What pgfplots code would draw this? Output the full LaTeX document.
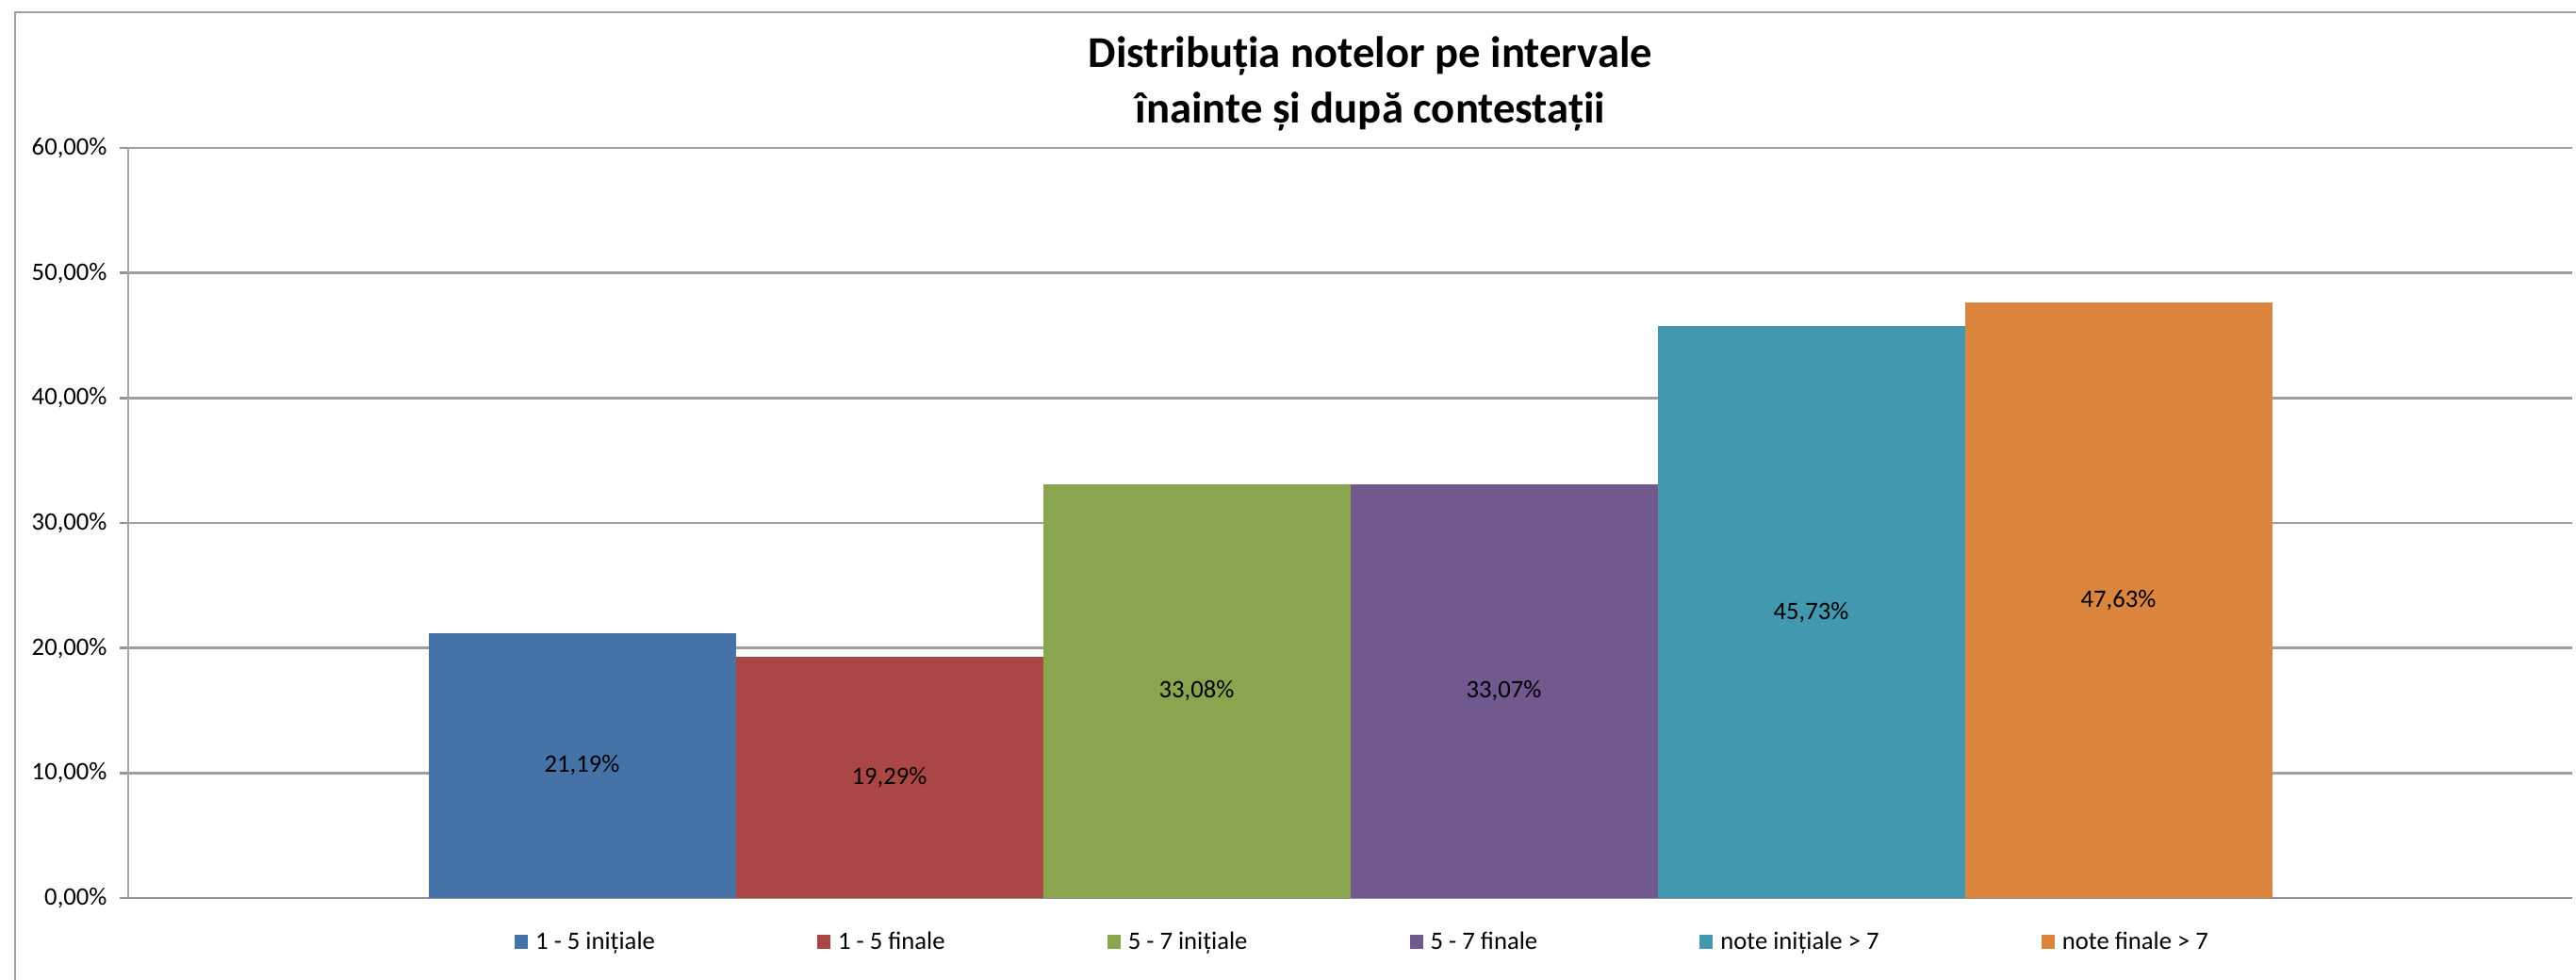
\documentclass[border=0pt]{standalone}
\usepackage{pgfplots}
\pgfplotsset{compat=1.18}
\usepackage{fontspec}
\setmainfont{Carlito}
\definecolor{c1}{HTML}{4572A7}
\definecolor{c2}{HTML}{AA4643}
\definecolor{c3}{HTML}{89A54E}
\definecolor{c4}{HTML}{71588F}
\definecolor{c5}{HTML}{4198AF}
\definecolor{c6}{HTML}{DB843D}
\pgfplotsset{mybar/.style={ybar, bar width=1, bar shift=0pt, draw=none, fill=#1,
  legend image code/.code={\fill[fill=#1] (0pt,-2.8pt) rectangle (5.3pt,2.8pt);}}}
\begin{document}
\begin{tikzpicture}
\useasboundingbox (0,0) rectangle (1024.9pt,390pt);
\draw[gray!75, line width=0.8pt] (6pt,0) -- (6pt,385.1pt) -- (1024.9pt,385.1pt);
\node[font=\bfseries\fontsize{17.5}{22}\selectfont, align=center] at (545.25pt,356.7pt) {Distribuția notelor pe intervale\\înainte și după contestații};
\begin{axis}[
  at={(51pt,32.625pt)}, anchor=south west,
  scale only axis, width=972.4pt, height=298.5pt,
  xmin=-0.477, xmax=7.477, ymin=0, ymax=60,
  axis x line*=bottom, axis y line*=left,
  x axis line style={draw=gray!85, line width=1.1pt},
  y axis line style={draw=gray!70, line width=0.4pt},
  xtick=\empty,
  ytick={0,10,20,30,40,50,60},
  yticklabels={{0,00\%},{10,00\%},{20,00\%},{30,00\%},{40,00\%},{50,00\%},{60,00\%}},
  tick align=outside, major tick length=3.4pt,
  ytick style={draw=gray!85, line width=1pt},
  ymajorgrids, major grid style={draw=gray!75, line width=1pt},
  ticklabel style={font=\fontsize{10}{12}\selectfont},
  yticklabel style={xshift=-1.5pt},
  legend columns=6,
  legend style={draw=none, fill=none, font=\fontsize{10}{12}\selectfont,
    at={(axis description cs:0.5,0)}, anchor=center, xshift=5.5pt, yshift=-17.6pt,
    /tikz/every odd column/.append style={column sep=1pt},
    /tikz/every even column/.append style={column sep=62.5pt}},
]
\addplot[mybar=c1] coordinates {(1,21.19)};
\addlegendentry{1 - 5 inițiale}
\addplot[mybar=c2] coordinates {(2,19.29)};
\addlegendentry{1 - 5 finale}
\addplot[mybar=c3] coordinates {(3,33.08)};
\addlegendentry{5 - 7 inițiale}
\addplot[mybar=c4] coordinates {(4,33.07)};
\addlegendentry{5 - 7 finale}
\addplot[mybar=c5] coordinates {(5,45.73)};
\addlegendentry{note inițiale > 7}
\addplot[mybar=c6] coordinates {(6,47.63)};
\addlegendentry{note finale > 7}
\addplot[draw=none, forget plot, nodes near coords, point meta=explicit symbolic,
  y filter/.expression={y/2},
  nodes near coords style={anchor=center, text=black, font=\fontsize{10}{12}\selectfont}]
  coordinates {(1,21.19) [21{,}19\%] (2,19.29) [19{,}29\%] (3,33.08) [33{,}08\%]
               (4,33.07) [33{,}07\%] (5,45.73) [45{,}73\%] (6,47.63) [47{,}63\%]};
\end{axis}
\end{tikzpicture}
\end{document}
